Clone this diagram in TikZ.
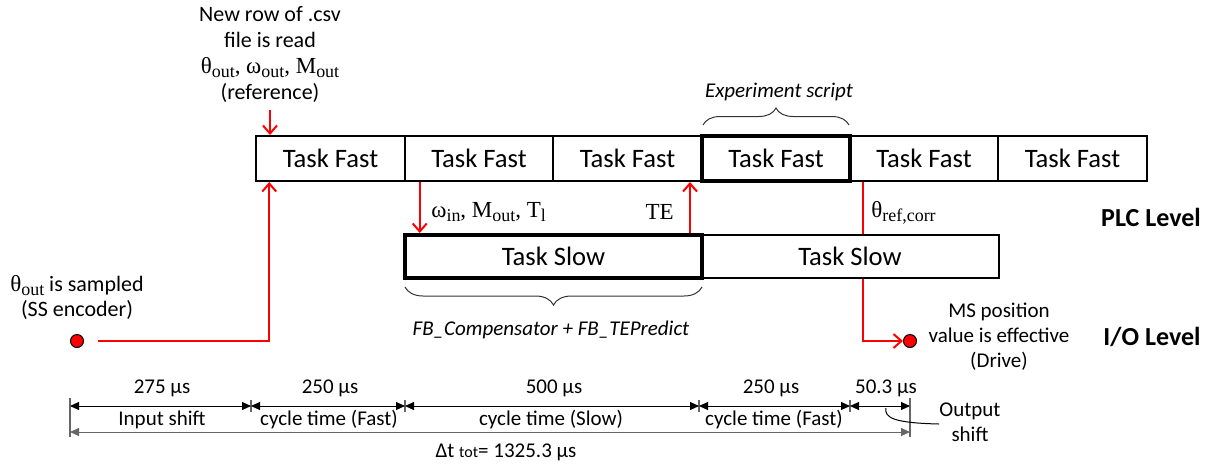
\documentclass[tikz,border=0pt]{standalone}
\usepackage{fontspec}
\usepackage{graphicx}
\setmainfont{Carlito}
\newfontfamily\mserif{Liberation Serif}
\usetikzlibrary{arrows.meta,decorations.pathreplacing,calc}
\newcommand\msub[2]{#1\raisebox{-0.4ex}{\scalebox{0.78}{#2}}}
\begin{document}
\begin{tikzpicture}[x=0.5pt,y=-0.5pt,
  fastbox/.style={draw, line width=1pt, minimum width=74.25pt, minimum height=22.5pt, inner sep=0pt, font=\fontsize{13.3}{15}\selectfont},
  thickbox/.style={fastbox, line width=2pt},
  slowbox/.style={fastbox, minimum width=148.5pt, minimum height=21.5pt},
  redarr/.style={red, line width=1pt, -{Straight Barb[length=4pt,width=7pt]}},
  redln/.style={red, line width=1pt},
  dot/.style={circle, draw=black, fill=red, line width=0.5pt, minimum size=6.5pt, inner sep=0pt},
  dim/.style={line width=0.5pt, {Triangle[length=4.5pt,width=4pt]}-{Triangle[length=4.5pt,width=4pt]}},
  tick/.style={line width=0.6pt, black!60},
  lbl/.style={font=\fontsize{10.5}{12.5}\selectfont, align=center, inner sep=0pt},
  mlbl/.style={font=\mserif\fontsize{11.5}{13}\selectfont, inner sep=0pt},
  lvl/.style={font=\bfseries\fontsize{13}{15}\selectfont, inner sep=0pt},
  brc/.style={decorate, decoration={brace, amplitude=8.5pt}, line width=0.5pt, black!80}]
\useasboundingbox (0,0) rectangle (1212,468);

% Fast tasks
\node[fastbox]  (f1) at (330.5,158.5) {Task Fast};
\node[fastbox]  (f2) at (479,158.5) {Task Fast};
\node[fastbox]  (f3) at (627.5,158.5) {Task Fast};
\node[fastbox]  (f5) at (924,158.5) {Task Fast};
\node[fastbox]  (f6) at (1072.5,158.5) {Task Fast};
\node[thickbox] (f4) at (776,158.5) {Task Fast};

% Slow tasks
\node[slowbox] (s2) at (850,256.5) {Task Slow};
\node[slowbox, line width=2pt] (s1) at (553.5,256.5) {Task Slow};

% Braces
\draw[brc] (703,125) -- (849,125);
\node[lbl, font=\itshape\fontsize{10.5}{12.5}\selectfont] (exp) at (779,92) {Experiment script};
\draw[brc, decoration={amplitude=9pt}] (702,287) -- (405,287);
\node[lbl, font=\itshape\fontsize{10.5}{12.5}\selectfont] (fb) at (551,330) {FB\_Compensator + FB\_TEPredict};

% Labels
\node[lbl, font=\fontsize{11}{13}\selectfont] (csv) at (270,54) {New row of .csv\\file is read\\{\mserif\fontsize{11.5}{13}\selectfont\msub{θ}{out}, \msub{ω}{out}, \msub{M}{out}}\\(reference)};
\node[lbl, font=\fontsize{11}{12.5}\selectfont] (samp) at (77,297) {{\mserif\fontsize{11.5}{13}\selectfont\msub{θ}{out}} is sampled\\(SS encoder)};
\node[lbl] (ms) at (999,337) {MS position\\value is effective\\(Drive)};
\node[lvl] (plc) at (1151,217) {PLC Level};
\node[lvl] (io) at (1152,337) {I/O Level};

% Red connectors
\coordinate (csvend) at (270,110);
\draw[redarr] (csvend) -- (f1.north -| csvend);

\node[dot] (d1) at (77,341) {};
\coordinate (inA) at ([xshift=7pt]f1.south west);
\draw[redarr, shorten <=7pt] (d1) -| (inA);

\coordinate (wA) at ([xshift=8pt]f2.south west);
\draw[redarr] (wA) -- (s1.north -| wA);
\node[mlbl, anchor=west] (win) at (431,212) {\msub{ω}{in}, \msub{M}{out}, \msub{T}{l}};

\coordinate (teA) at ([xshift=-7pt]s1.north east);
\draw[redarr] (teA) -- (f3.south -| teA);
\node[mlbl, anchor=east] (te) at (674,212) {TE};

\coordinate (tref) at ([xshift=7pt]f5.south west);
\draw[redln] (tref) -- (s2.north -| tref);
\node[mlbl, anchor=west] (thr) at (871,213) {\msub{θ}{ref,corr}};

\node[dot] (d2) at (910,341) {};
\draw[redarr] (s2.south -| tref) |- (d2.west);

% Dimension lines
\coordinate (t0) at (70,406);
\coordinate (t1) at (251,406);
\coordinate (t2) at (405,406);
\coordinate (t3) at (699,406);
\coordinate (t4) at (850,406);
\coordinate (t5) at (910,406);
\coordinate (u0) at (70,432);
\coordinate (u5) at (910,432);

\draw[tick] (70,398) -- (70,437);
\draw[tick] (910,398) -- (910,437);
\foreach \x in {251,405,699,850} \draw[tick] (\x,400) -- (\x,412);

\draw[dim] (t0) -- (t1);
\draw[dim] (t1) -- (t2);
\draw[dim] (t2) -- (t3);
\draw[dim] (t3) -- (t4);
\draw[dim] (t4) -- (t5);
\draw[dim, draw=black!60] (u0) -- (u5);

\node[lbl] (v1) at (162,388) {275 µs};
\node[lbl] (v2) at (330,388) {250 µs};
\node[lbl] (v3) at (554,388) {500 µs};
\node[lbl] (v4) at (771,388) {250 µs};
\node[lbl] (v5) at (886,388) {50.3 µs};
\node[lbl] (n1) at (162,420) {Input shift};
\node[lbl] (n2) at (329,420) {cycle time (Fast)};
\node[lbl] (n3) at (551,420) {cycle time (Slow)};
\node[lbl] (n4) at (774,420) {cycle time (Fast)};
\node[lbl] (outsh) at (970,422) {Output\\shift};
\coordinate (lead) at (886,408);
\draw[line width=0.5pt] ([yshift=-1pt]outsh.west) .. controls (895,423) and (884,418) .. (lead);
\node[lbl] (tot) at (506,452) {Δt {\fontsize{8}{9}\selectfont tot}= 1325.3 µs};
\end{tikzpicture}
\end{document}
